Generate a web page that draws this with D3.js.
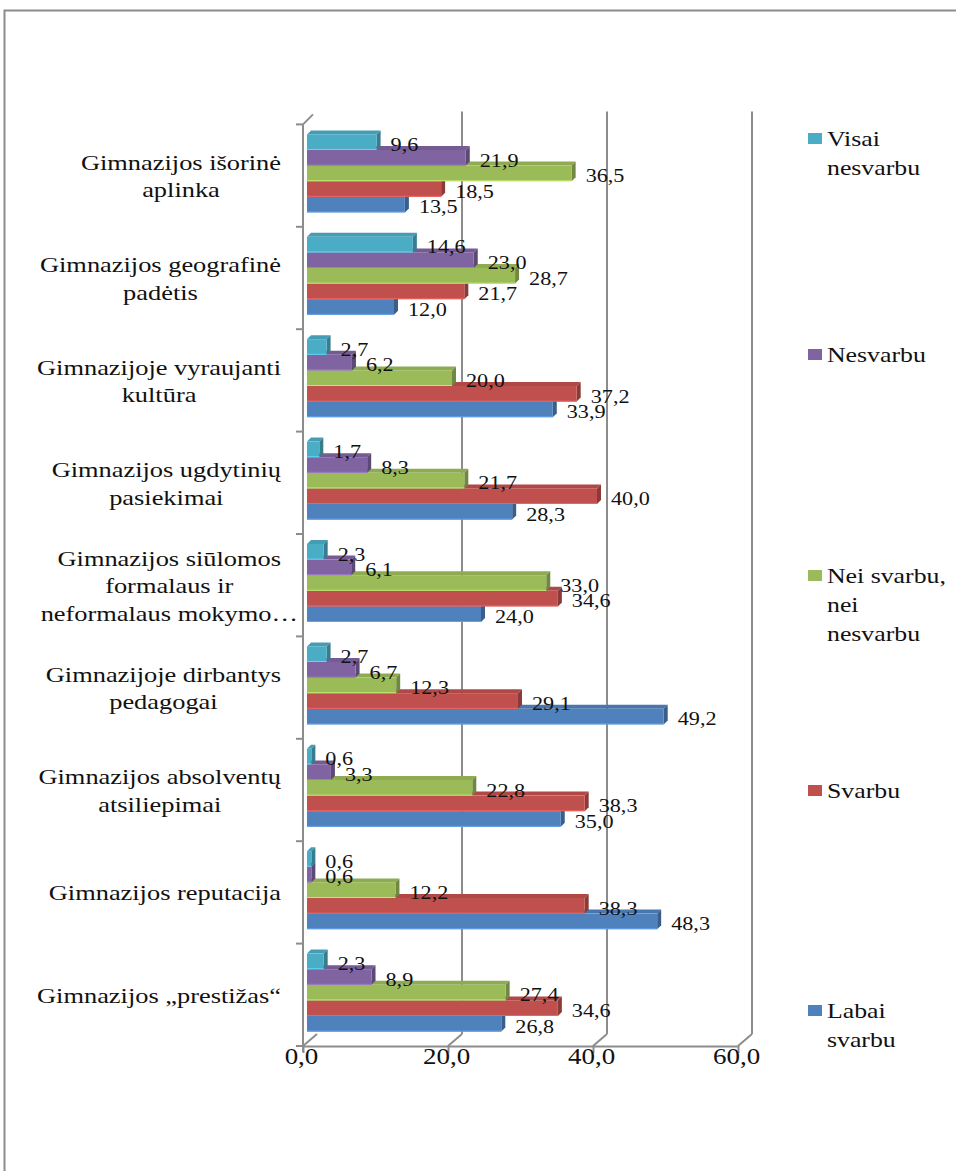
<!DOCTYPE html>
<html><head><meta charset="utf-8">
<script src="https://cdn.jsdelivr.net/npm/d3@7/dist/d3.min.js"></script>
<style>
html,body{margin:0;padding:0;background:#fff;}
svg{display:block;}
text{font-family:"Liberation Serif","Times New Roman",serif;fill:#111;}
</style></head>
<body>
<svg id="c" width="956" height="1171"></svg>
<script>
// ---- data ----
const categories = [
  "Gimnazijos išorinė\naplinka",
  "Gimnazijos geografinė\npadėtis",
  "Gimnazijoje vyraujanti\nkultūra",
  "Gimnazijos ugdytinių\npasiekimai",
  "Gimnazijos siūlomos\nformalaus ir\nneformalaus mokymo…",
  "Gimnazijoje dirbantys\npedagogai",
  "Gimnazijos absolventų\natsiliepimai",
  "Gimnazijos reputacija",
  "Gimnazijos „prestižas“"
];
const seriesNames = ["Visai nesvarbu", "Nesvarbu", "Nei svarbu, nei nesvarbu", "Svarbu", "Labai svarbu"];
const legendLabels = [["Visai", "nesvarbu"], ["Nesvarbu"], ["Nei svarbu,", "nei", "nesvarbu"], ["Svarbu"], ["Labai", "svarbu"]];
const visaiNesvarbu = [9.6, 14.6, 2.7, 1.7, 2.3, 2.7, 0.6, 0.6, 2.3];
const nesvarbu      = [21.9, 23.0, 6.2, 8.3, 6.1, 6.7, 3.3, 0.6, 8.9];
const neiSvarbu     = [36.5, 28.7, 20.0, 21.7, 33.0, 12.3, 22.8, 12.2, 27.4];
const svarbu        = [18.5, 21.7, 37.2, 40.0, 34.6, 29.1, 38.3, 38.3, 34.6];
const labaiSvarbu   = [13.5, 12.0, 33.9, 28.3, 24.0, 49.2, 35.0, 48.3, 26.8];
const seriesValues = [visaiNesvarbu, nesvarbu, neiSvarbu, svarbu, labaiSvarbu];
const colors = ["#4BACC6", "#8064A2", "#9BBB59", "#C0504D", "#4F81BD"];
const xTicks = [0, 20, 40, 60];

// ---- layout ----
const SX = 1.2;             // horizontal stretch of the original picture
const fmt = v => v.toFixed(1).replace(".", ",");
const svg = d3.select("#c");
svg.append("rect").attr("width", 956).attr("height", 1171).attr("fill", "#fff");
svg.append("path").attr("d", "M4.5,1171V10.5H956").attr("fill", "none").attr("stroke", "#8c8c8c").attr("stroke-width", 2);

const DX = 14, DY = -12;
const xFront = d3.scaleLinear().domain([0, 60]).range([303, 738]);
const xBar   = d3.scaleLinear().domain([0, 60]).range([307, 742]);
const xBack  = d3.scaleLinear().domain([0, 60]).range([303 + DX, 738 + DX]);
const yBand  = d3.scaleBand().domain(categories).range([124.4, 1046]).padding(0);
const bw = yBand.bandwidth();
const yTop = 124.4, yBot = 1046;
const grid = "#8c8c8c";

const gWall = svg.append("g");
xTicks.filter(t => t > 0).forEach(t => {
  gWall.append("line").attr("x1", xBack(t)).attr("x2", xBack(t))
    .attr("y1", yTop + DY - 1).attr("y2", yBot + DY)
    .attr("stroke", grid).attr("stroke-width", 2);
});
xTicks.forEach(t => {
  gWall.append("line").attr("x1", xFront(t)).attr("y1", yBot)
    .attr("x2", xBack(t)).attr("y2", yBot + DY)
    .attr("stroke", grid).attr("stroke-width", 2);
});
gWall.append("line").attr("x1", xFront(0)).attr("y1", yTop)
  .attr("x2", xFront(0) + 10).attr("y2", yTop - 10)
  .attr("stroke", grid).attr("stroke-width", 2);
gWall.append("line").attr("x1", xFront(0)).attr("x2", xFront(0))
  .attr("y1", yTop).attr("y2", yBot + 6).attr("stroke", grid).attr("stroke-width", 2);
categories.concat([null]).forEach(c => {
  const y = c === null ? yBot : yBand(c);
  gWall.append("line").attr("x1", xFront(0) - 7).attr("x2", xFront(0))
    .attr("y1", y).attr("y2", y).attr("stroke", grid).attr("stroke-width", 2);
});

// bottom axis
const ax = svg.append("g").attr("transform", `translate(0,${yBot})`)
  .call(d3.axisBottom(xFront).tickValues(xTicks).tickFormat(fmt).tickSize(7).tickSizeOuter(0));
ax.select(".domain").attr("stroke", grid).attr("stroke-width", 2);
ax.selectAll(".tick line").attr("stroke", grid).attr("stroke-width", 2);
ax.selectAll(".tick text").attr("y", 0).attr("dy", 0)
  .attr("transform", `translate(-2,18) scale(${SX},1)`)
  .style("font-size", "22.5px").style("font-family", '"Liberation Serif",serif').attr("fill", "#111");

// bars
const BH = 15.6, D = 4, OFF = 10;
const gBars = svg.append("g");
const gLabels = svg.append("g");
categories.forEach((c, ci) => {
  for (let si = seriesValues.length - 1; si >= 0; si--) {
    const v = seriesValues[si][ci];
    const y0 = yBand(c) + OFF + si * BH, y1 = y0 + BH;
    const x0 = xBar(0), x1 = xBar(v);
    const col = d3.color(colors[si]);
    gBars.append("path")
      .attr("d", `M${x0},${y0}L${x1},${y0}L${x1 + D},${y0 - D}L${x0 + D},${y0 - D}Z`)
      .attr("fill", col.darker(0.25));
    gBars.append("path")
      .attr("d", `M${x1},${y0}L${x1 + D},${y0 - D}L${x1 + D},${y1 - D}L${x1},${y1}Z`)
      .attr("fill", col.darker(0.9));
    gBars.append("rect").attr("x", x0).attr("y", y0).attr("width", x1 - x0).attr("height", BH)
      .attr("fill", col.formatHex());
    gBars.append("line").attr("x1", x0).attr("x2", x1).attr("y1", y1 - 0.5).attr("y2", y1 - 0.5)
      .attr("stroke", col.brighter(0.6)).attr("stroke-width", 1);
    const g = gLabels.append("g").attr("transform", `translate(${x1 + 14},${y1 + 1}) scale(${SX},1)`);
    g.append("text").style("font-size", "18.5px").text(fmt(v));
  }
});

// category labels
const LH = 27.5;
categories.forEach(c => {
  const lines = c.split("\n");
  const cy = yBand(c) + bw / 2;
  const g = svg.append("g");
  const texts = lines.map((ln, i) => {
    const yy = cy + (i - (lines.length - 1) / 2) * LH + 8;
    const gg = g.append("g").attr("transform", `translate(0,${yy}) scale(${SX},1)`);
    return gg.append("text").attr("text-anchor", "middle").style("font-size", "22px").text(ln);
  });
  let maxW = 0;
  texts.forEach((t, i) => { if (!lines[i].endsWith("…")) maxW = Math.max(maxW, t.node().getComputedTextLength() * SX); });
  const cx = 281 - maxW / 2;
  texts.forEach(t => { t.attr("x", cx / SX); });
});

// legend
const legendBase = [146, 362, 583, 798, 1018];
legendLabels.forEach((lines, i) => {
  const b = legendBase[i];
  svg.append("rect").attr("x", 808).attr("y", b - 13).attr("width", 14).attr("height", 11).attr("fill", colors[i]);
  lines.forEach((ln, k) => {
    const g = svg.append("g").attr("transform", `translate(827,${b + k * 29}) scale(${SX},1)`);
    g.append("text").style("font-size", "21.5px").text(ln);
  });
});
</script>
</body></html>
